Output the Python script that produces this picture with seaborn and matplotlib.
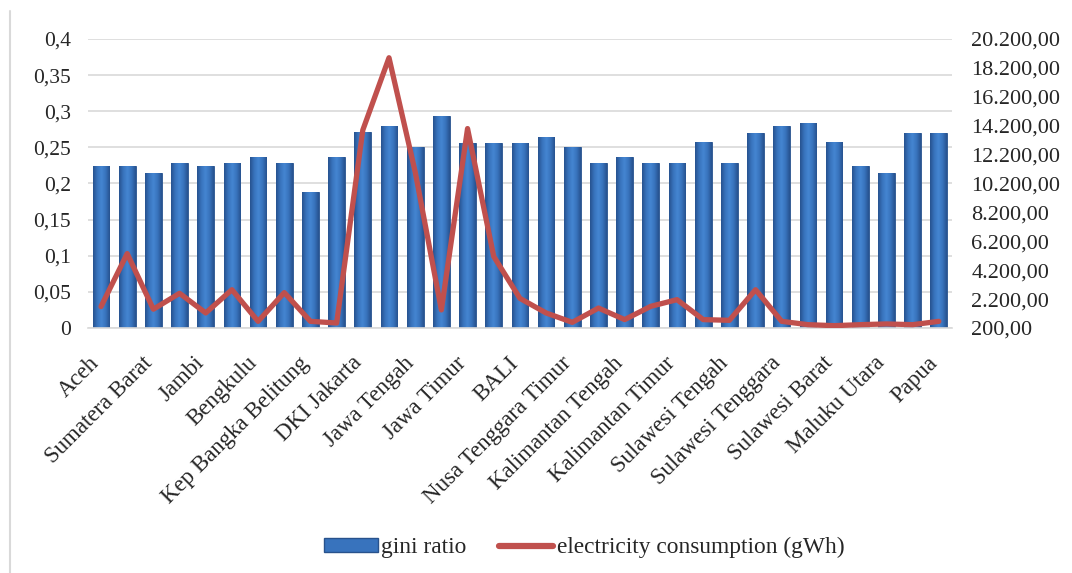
import numpy as np
import pandas as pd
import matplotlib
matplotlib.use("Agg")
import matplotlib.pyplot as plt
import matplotlib.transforms as mtransforms
import seaborn as sns
from matplotlib.lines import Line2D
from matplotlib.patches import Patch
from matplotlib.colors import LinearSegmentedColormap

# provinces in the order of the chart (33, every other one is labelled)
provinces = ["Aceh", "Sumatera Utara", "Sumatera Barat", "Riau", "Jambi",
             "Sumatera Selatan", "Bengkulu", "Lampung", "Kep Bangka Belitung",
             "Kep Riau", "DKI Jakarta", "Jawa Barat", "Jawa Tengah",
             "DI Yogyakarta", "Jawa Timur", "Banten", "BALI",
             "Nusa Tenggara Barat", "Nusa Tenggara Timur", "Kalimantan Barat",
             "Kalimantan Tengah", "Kalimantan Selatan", "Kalimantan Timur",
             "Sulawesi Utara", "Sulawesi Tengah", "Sulawesi Selatan",
             "Sulawesi Tenggara", "Gorontalo", "Sulawesi Barat", "Maluku",
             "Maluku Utara", "Papua Barat", "Papua"]

gini = [0.224, 0.224, 0.215, 0.229, 0.224, 0.229, 0.237, 0.229, 0.188,
        0.237, 0.271, 0.279, 0.251, 0.293, 0.256, 0.256, 0.256,
        0.265, 0.251, 0.229, 0.237, 0.229, 0.229, 0.257, 0.229, 0.270,
        0.279, 0.284, 0.257, 0.224, 0.215, 0.270, 0.270]

elec = [1680, 5350, 1500, 2600, 1240, 2850, 660, 2650, 660,
        545, 13900, 18900, 11000, 1450, 14000, 5150, 2250,
        1240, 590, 1580, 780, 1700, 2160, 780, 730, 2850,
        660, 430, 360, 430, 480, 430, 660]

# only every other province gets a label
tick_labels = [p if i % 2 == 0 else "" for i, p in enumerate(provinces)]

df = pd.DataFrame({"province": provinces, "gini": gini, "elec": elec})

sns.set_style("white")
plt.rcParams['font.family'] = ['Liberation Serif', 'DejaVu Serif']

fig, ax = plt.subplots(figsize=(10.72, 5.73), dpi=100)
fig.subplots_adjust(left=0.082, right=0.888, top=0.932, bottom=0.4276)

bar_col = "#3a75bd"
line_col = "#c0504d"
grid_col = "#d9d9d9"

sns.barplot(data=df, x="province", y="gini", color=bar_col, width=0.64,
            edgecolor="#28528c", linewidth=0.6, saturation=1, ax=ax, zorder=2)

# cylinder-like shading of the bars, like the office chart
shade = LinearSegmentedColormap.from_list(
    "shade", ["#27528e", "#3873bd", "#4586d2", "#3873bd", "#27528e"])
grad = np.linspace(0, 1, 64).reshape(1, -1)
for p in ax.patches:
    x0, y0, w, h = p.get_x(), p.get_y(), p.get_width(), p.get_height()
    im = ax.imshow(grad, extent=[x0, x0 + w, y0, y0 + h], aspect="auto",
                   cmap=shade, zorder=2.5, interpolation="bicubic")
    im.set_clip_path(p)

ax.set_ylim(0, 0.4)
ax.set_yticks(np.arange(0, 0.401, 0.05))
ax.set_yticklabels([("%g" % round(v, 2)).replace(".", ",") for v in np.arange(0, 0.401, 0.05)],
                   fontsize=15.5)
ax.set_xlim(-0.5, len(provinces) - 0.5)
ax.set_xticks(range(len(provinces)))
ax.set_xticklabels(tick_labels, rotation=45, ha="right", rotation_mode="anchor", fontsize=16.5)
ax.set_xlabel("")
ax.set_ylabel("")
ax.yaxis.grid(True, color=grid_col, linewidth=1.2, zorder=0)
ax.set_axisbelow(True)
ax.tick_params(axis="both", length=0)
ax.tick_params(axis="y", pad=12)
ax.tick_params(axis="x", pad=9)
for s in ["top", "left", "right"]:
    ax.spines[s].set_visible(False)
ax.spines["bottom"].set_color(grid_col)
ax.spines["bottom"].set_linewidth(1.2)

ax2 = ax.twinx()
sns.lineplot(x=np.arange(len(provinces)), y=df["elec"], color=line_col,
             linewidth=3.8, sort=False, ax=ax2)
ax2.set_ylim(200, 20200)
rticks = np.arange(200, 20201, 2000)
ax2.set_yticks(rticks)
ax2.set_yticklabels([f"{v:,.2f}".replace(",", "X").replace(".", ",").replace("X", ".") for v in rticks],
                    fontsize=16)
ax2.set_ylabel("")
ax2.tick_params(axis="y", length=0, pad=14)
for s in ax2.spines.values():
    s.set_visible(False)

# shift the slanted labels a bit left and down (after tick_params, which resets transforms)
shift = mtransforms.ScaledTranslation(-12 / 100, -12 / 100, fig.dpi_scale_trans)
for tick in ax.xaxis.get_major_ticks():
    tick.label1.set_transform(tick.label1.get_transform() + shift)

# left frame line of the chart area
fig.add_artist(Line2D([0.0095, 0.0095], [0, 0.98], color=grid_col, linewidth=1.5))

handles = [Patch(facecolor="#3873bd", edgecolor="#28528c"),
           Line2D([0], [0], color=line_col, linewidth=4.5)]
fig.legend(handles, ["gini ratio", "electricity consumption (gWh)"],
           loc="center", bbox_to_anchor=(0.545, 0.044), ncol=2, frameon=False,
           fontsize=16.8, handlelength=2.3, handleheight=0.55, handletextpad=0.15,
           columnspacing=1.4)

fig.savefig("out.png", dpi=100)
